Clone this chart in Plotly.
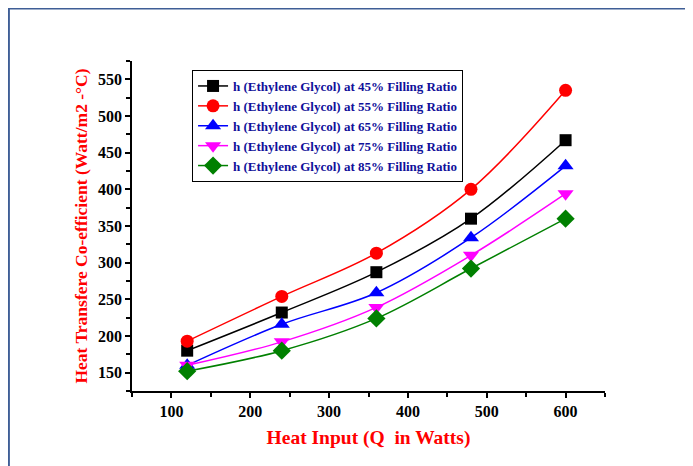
import plotly.graph_objects as go

heat_input = [120, 240, 360, 480, 600]
h_45 = [180, 232, 287, 360, 467]
h_55 = [193, 254, 313, 400, 535]
h_65 = [160, 216, 259, 334, 432]
h_75 = [160, 192, 239, 310, 394]
h_85 = [152, 180, 224, 292, 360]

series = [
    ("h (Ethylene Glycol) at 45% Filling Ratio", h_45, "#000000", "square", 12),
    ("h (Ethylene Glycol) at 55% Filling Ratio", h_55, "#ff0000", "circle", 13),
    ("h (Ethylene Glycol) at 65% Filling Ratio", h_65, "#0000ff", "triangle-up", 14),
    ("h (Ethylene Glycol) at 75% Filling Ratio", h_75, "#ff00ff", "triangle-down", 14),
    ("h (Ethylene Glycol) at 85% Filling Ratio", h_85, "#008000", "diamond", 14),
]

fig = go.Figure()
for name, vals, col, sym, sz in series:
    fig.add_trace(go.Scatter(
        x=heat_input, y=vals, name=name, mode="lines+markers",
        line=dict(color=col, width=1.5, shape="spline", smoothing=1.0),
        marker=dict(color=col, symbol=sym, size=sz),
    ))

# page body has an 8px margin; compensate so the plot lands where the reference has it
OFF = 8
W, H = 693, 466
ml, mt = 132 - OFF, 61 - OFF
pw, ph = 472.6, 330
mr = W - ml - pw
mb = H - mt - ph

def px_x(p):
    return (p - OFF - ml) / pw

def px_y(p):
    return (mt + ph - (p - OFF)) / ph

frame_col = "#3f5e96"
# top edge and left edge of the outer frame
fig.add_shape(type="line", xref="paper", yref="paper",
              x0=px_x(8), x1=px_x(760), y0=px_y(8.5), y1=px_y(8.5),
              line=dict(color=frame_col, width=2), layer="below")
fig.add_shape(type="line", xref="paper", yref="paper",
              x0=px_x(9), x1=px_x(9), y0=px_y(8), y1=px_y(520),
              line=dict(color=frame_col, width=2), layer="below")

font_serif = "Liberation Serif, Times New Roman, serif"

fig.update_layout(
    width=W, height=H,
    margin=dict(l=ml, r=mr, t=mt, b=mb),
    paper_bgcolor="white", plot_bgcolor="white",
    font=dict(family=font_serif, color="black"),
    showlegend=True,
    legend=dict(
        x=px_x(192), y=px_y(70), xanchor="left", yanchor="top",
        bgcolor="white", bordercolor="black", borderwidth=1,
        font=dict(family=font_serif, size=13, color="#10109a", weight="bold"),
        tracegroupgap=0, itemwidth=30,
    ),
    xaxis=dict(
        range=[50, 650], tickvals=[100, 200, 300, 400, 500, 600],
        ticks="outside", ticklen=5, tickwidth=1.5, tickcolor="black",
        minor=dict(tickvals=[50, 150, 250, 350, 450, 550, 650], ticks="outside", ticklen=4, tickwidth=1.5, tickcolor="black"),
        showline=True, linecolor="black", linewidth=1.5,
        showgrid=False, zeroline=False,
        tickfont=dict(family=font_serif, size=16, color="black", weight="bold"),
        title=dict(text="Heat Input (Q\u00a0\u00a0in Watts)", standoff=11,
                   font=dict(family=font_serif, size=19.5, color="#ff0000", weight="bold")),
    ),
    yaxis=dict(
        range=[125, 575], tickvals=[150, 200, 250, 300, 350, 400, 450, 500, 550],
        ticks="outside", ticklen=5, tickwidth=1.5, tickcolor="black",
        minor=dict(tickvals=[125, 175, 225, 275, 325, 375, 425, 475, 525, 575], ticks="outside", ticklen=4, tickwidth=1.5, tickcolor="black"),
        showline=True, linecolor="black", linewidth=1.5,
        showgrid=False, zeroline=False,
        tickfont=dict(family=font_serif, size=16, color="black", weight="bold"),
        title=dict(text="Heat Transfere Co-efficient (Watt/m2 -°C)", standoff=6,
                   font=dict(family=font_serif, size=17.5, color="#ff0000", weight="bold")),
    ),
)

fig.write_html("out.html")
